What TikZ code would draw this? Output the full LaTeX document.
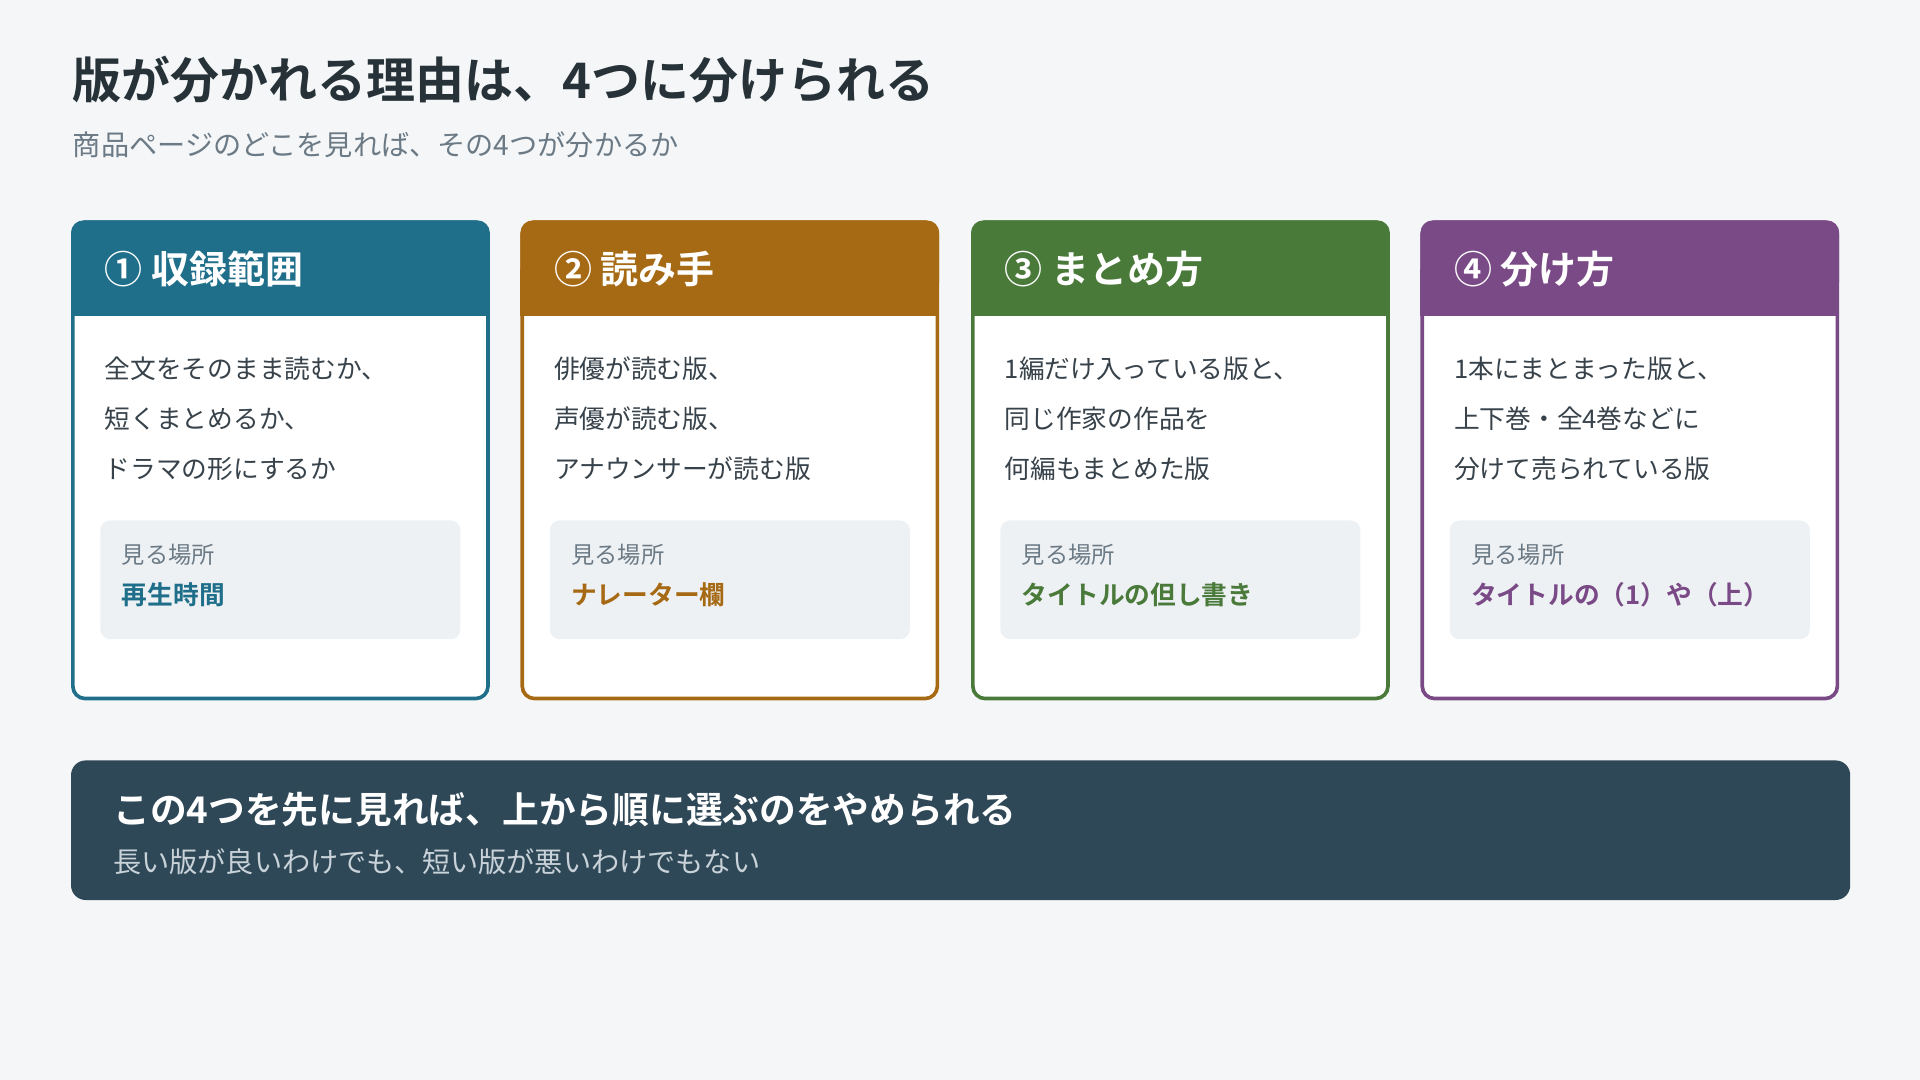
\documentclass[tikz,border=0pt]{standalone}
\usepackage{fontspec}
\setmainfont{Noto Sans CJK JP}
\newfontfamily\jpb{Noto Sans CJK JP Bold}
\definecolor{bg}{HTML}{F4F6F8}
\definecolor{ttl}{HTML}{263238}
\definecolor{sub}{HTML}{6B7A85}
\definecolor{body}{HTML}{37424A}
\definecolor{inner}{HTML}{EEF1F4}
\definecolor{cA}{HTML}{1F6F8B}
\definecolor{cB}{HTML}{A66914}
\definecolor{cC}{HTML}{4A7A3A}
\definecolor{cD}{HTML}{7A4A87}
\definecolor{ban}{HTML}{2F4858}
\definecolor{bansub}{HTML}{C8D2D8}
\begin{document}
\begin{tikzpicture}[x=1pt,y=-1pt,
  bodyt/.style={anchor=west,text=body,font=\fontsize{21}{21}\selectfont},
  hdr/.style={anchor=west,text=white,font=\jpb\fontsize{31}{31}\selectfont},
  small/.style={anchor=west,text=sub,font=\fontsize{19}{19}\selectfont},
  lab/.style={anchor=west,font=\jpb\fontsize{21}{21}\selectfont}]
\fill[bg] (0,0) rectangle (1568,882);
\useasboundingbox (0,0) rectangle (1568,882);
\node[anchor=west,text=ttl,font=\jpb\fontsize{40}{40}\selectfont] (title) at (56,65) {版が分かれる理由は、4つに分けられる};
\node[anchor=west,text=sub,font=\fontsize{23}{23}\selectfont] (subtitle) at (56,118) {商品ページのどこを見れば、その4つが分かるか};
\foreach \x/\c/\h/\a/\b/\d/\l [count=\i] in {
 58/cA/{① 収録範囲}/{全文をそのまま読むか、}/{短くまとめるか、}/{ドラマの形にするか}/{再生時間},
 425/cB/{② 読み手}/{俳優が読む版、}/{声優が読む版、}/{アナウンサーが読む版}/{ナレーター欄},
 793/cC/{③ まとめ方}/{1編だけ入っている版と、}/{同じ作家の作品を}/{何編もまとめた版}/{タイトルの但し書き},
 1160/cD/{④ 分け方}/{1本にまとまった版と、}/{上下巻・全4巻などに}/{分けて売られている版}/{タイトルの（1）や（上）}}{
 \fill[white,rounded corners=10] (\x,180) rectangle ++(342,392);
 \fill[\c,rounded corners=10] (\x,180) rectangle ++(342,60);
 \fill[\c] (\x,220) rectangle ++(342,38);
 \draw[\c,line width=3,rounded corners=10] (\x+1.5,181.5) rectangle ++(339,389);
 \node[hdr] (h\i) at (\x+24,220) {\h};
 \node[bodyt] (a\i) at (\x+24,301) {\a};
 \node[bodyt] (b\i) at (\x+24,342) {\b};
 \node[bodyt] (d\i) at (\x+24,383) {\d};
 \fill[inner,rounded corners=8] (\x+24,425) rectangle ++(294,97);
 \node[small] (s\i) at (\x+38,453) {見る場所};
 \node[lab,text=\c] (l\i) at (\x+38,486) {\l};
}
\fill[ban,rounded corners=12] (58,621) rectangle (1511,735);
\node[anchor=west,text=white,font=\jpb\fontsize{30}{30}\selectfont] (bt) at (89,661) {この4つを先に見れば、上から順に選ぶのをやめられる};
\node[anchor=west,text=bansub,font=\fontsize{23}{23}\selectfont] (bs) at (89,704) {長い版が良いわけでも、短い版が悪いわけでもない};
\end{tikzpicture}
\end{document}
